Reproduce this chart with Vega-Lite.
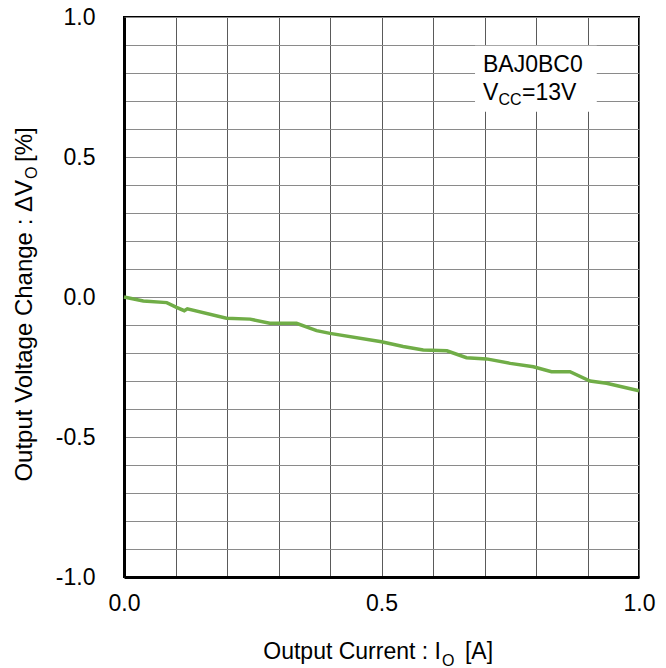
{
  "$schema": "https://vega.github.io/schema/vega-lite/v6.json",
  "autosize": {"type": "none"},
  "padding": {"left": 124, "top": 17, "right": 27, "bottom": 91},
  "width": 515,
  "height": 560,
  "background": "white",
  "config": {
    "view": {"stroke": "black", "strokeWidth": 2},
    "font": "Liberation Sans",
    "text": {"font": "Liberation Sans", "color": "black"}
  },
  "datasets": {
    "curve": [
      {"current": 0, "change": 0},
      {"current": 0.0375, "change": -0.014},
      {"current": 0.083, "change": -0.02},
      {"current": 0.102, "change": -0.037},
      {"current": 0.117, "change": -0.049},
      {"current": 0.123, "change": -0.042},
      {"current": 0.199, "change": -0.076},
      {"current": 0.245, "change": -0.079},
      {"current": 0.283, "change": -0.094},
      {"current": 0.335, "change": -0.094},
      {"current": 0.374, "change": -0.12},
      {"current": 0.4, "change": -0.13},
      {"current": 0.5, "change": -0.16},
      {"current": 0.542, "change": -0.177},
      {"current": 0.581, "change": -0.189},
      {"current": 0.627, "change": -0.192},
      {"current": 0.665, "change": -0.217},
      {"current": 0.704, "change": -0.221},
      {"current": 0.75, "change": -0.237},
      {"current": 0.795, "change": -0.249},
      {"current": 0.83, "change": -0.267},
      {"current": 0.866, "change": -0.267},
      {"current": 0.905, "change": -0.3},
      {"current": 0.937, "change": -0.308},
      {"current": 1.0, "change": -0.335}
    ]
  },
  "encoding": {
    "x": {
      "field": "current", "type": "quantitative",
      "scale": {"domain": [0, 1], "nice": false, "zero": false},
      "axis": {
        "title": null,
        "values": [0, 0.1, 0.2, 0.3, 0.4, 0.5, 0.6, 0.7, 0.8, 0.9, 1.0],
        "labelExpr": "abs(datum.value*2 - round(datum.value*2)) < 0.001 ? format(datum.value, '.1f') : ''",
        "grid": true, "gridColor": "#5a5a5a", "gridWidth": 1, "gridOpacity": 1,
        "ticks": false,
        "domain": true, "domainColor": "black", "domainWidth": 3,
        "labelFont": "Liberation Sans", "labelFontSize": 23, "labelColor": "black",
        "labelPadding": 15, "labelFlush": false, "labelOverlap": false
      }
    },
    "y": {
      "field": "change", "type": "quantitative",
      "scale": {"domain": [-1, 1], "nice": false, "zero": false},
      "axis": {
        "title": null,
        "values": [-1, -0.9, -0.8, -0.7, -0.6, -0.5, -0.4, -0.3, -0.2, -0.1, 0, 0.1, 0.2, 0.3, 0.4, 0.5, 0.6, 0.7, 0.8, 0.9, 1.0],
        "labelExpr": "abs(datum.value*2 - round(datum.value*2)) < 0.001 ? (datum.value < -0.001 ? '-' + format(-datum.value, '.1f') : format(abs(datum.value), '.1f')) : ''",
        "grid": true, "gridColor": "#8a8a8a", "gridWidth": 1, "gridOpacity": 1,
        "ticks": false,
        "domain": true, "domainColor": "black", "domainWidth": 3,
        "labelFont": "Liberation Sans", "labelFontSize": 23, "labelColor": "black",
        "labelPadding": 29, "labelFlush": false, "labelOverlap": false
      }
    }
  },
  "layer": [
    {
      "data": {"name": "curve"},
      "mark": {"type": "line", "color": "#70AD47", "strokeWidth": 3.5}
    },
    {
      "data": {"values": [{"current": 0.6816, "current2": 0.918, "change": 0.662, "change2": 0.897}]},
      "mark": {"type": "rect", "fill": "white", "stroke": null},
      "encoding": {
        "x2": {"field": "current2"},
        "y2": {"field": "change2"}
      }
    },
    {
      "data": {"values": [
        {"label": "BAJ0BC0", "current": 0.697, "change": 0.805},
        {"label": "V", "current": 0.697, "change": 0.7036},
        {"label": "=13V", "current": 0.7728, "change": 0.7036},
        {"label": "[A]", "current": 0.662, "change": -1.293}
      ]},
      "mark": {"type": "text", "align": "left", "baseline": "alphabetic", "fontSize": 23},
      "encoding": {"text": {"field": "label"}}
    },
    {
      "data": {"values": [
        {"label": "Output Current : I", "current": 0.6155, "change": -1.293}
      ]},
      "mark": {"type": "text", "align": "right", "baseline": "alphabetic", "fontSize": 23},
      "encoding": {"text": {"field": "label"}}
    },
    {
      "data": {"values": [
        {"label": "CC", "current": 0.7272, "change": 0.686},
        {"label": "O", "current": 0.6175, "change": -1.318}
      ]},
      "mark": {"type": "text", "align": "left", "baseline": "alphabetic", "fontSize": 16},
      "encoding": {"text": {"field": "label"}}
    },
    {
      "data": {"values": [
        {"label": "Output Voltage Change : ΔV", "current": -0.1786, "change": 0.4179}
      ]},
      "mark": {"type": "text", "angle": 270, "align": "right", "baseline": "alphabetic", "fontSize": 24},
      "encoding": {"text": {"field": "label"}}
    },
    {
      "data": {"values": [
        {"label": "[%]", "current": -0.1786, "change": 0.4821}
      ]},
      "mark": {"type": "text", "angle": 270, "align": "left", "baseline": "alphabetic", "fontSize": 24},
      "encoding": {"text": {"field": "label"}}
    },
    {
      "data": {"values": [
        {"label": "O", "current": -0.169, "change": 0.4214}
      ]},
      "mark": {"type": "text", "angle": 270, "align": "left", "baseline": "alphabetic", "fontSize": 16},
      "encoding": {"text": {"field": "label"}}
    }
  ]
}
